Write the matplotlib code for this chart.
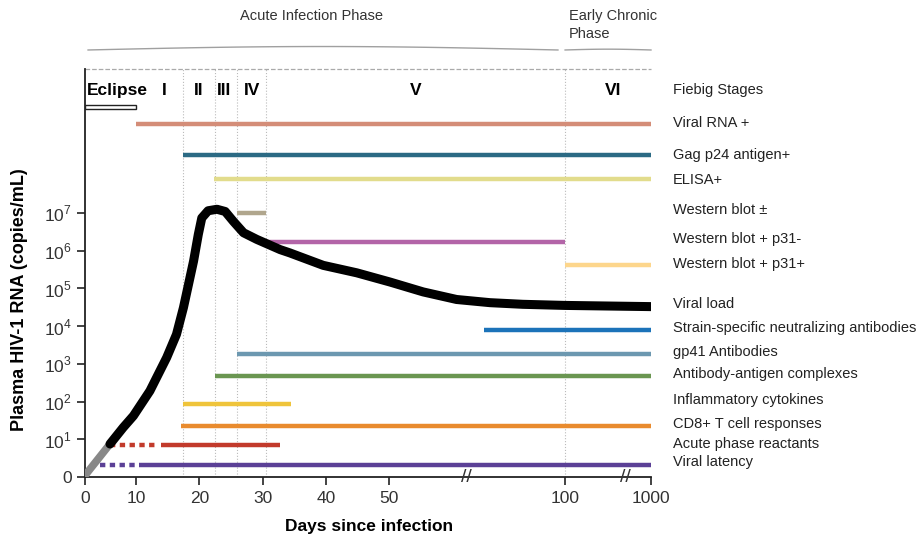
import numpy as np
import matplotlib.pyplot as plt

plt.rcParams['font.family'] = ['Liberation Sans', 'DejaVu Sans']
plt.rcParams['mathtext.fontset'] = 'custom'
plt.rcParams['mathtext.rm'] = 'Liberation Sans'

# broken x axis: days -> drawing units (piecewise linear)
day_knots = [0, 10, 50, 100, 1000]
unit_knots = [0, 51, 304, 480, 566]

# viral load curve (days, copies/mL)
vl_early_days = [0, 4.9]
vl_early_vals = [1.1, 7.5]
vl_days = [4.9, 7.5, 9.5, 12.2, 14.85, 16.4, 17.5, 18.3, 19.1, 19.85, 20.4,
           21.4, 22.8, 24.1, 25.4, 27.0, 29.1, 32.8, 34.3, 39.6, 44.9, 50.3,
           59.7, 69.2, 78.7, 88, 100, 1000]
vl_vals = [7.5, 20.6, 42, 192, 1470, 6060, 31000, 1.28e5, 5.3e5, 2.7e6, 7.4e6,
           1.15e7, 1.26e7, 1.1e7, 6.0e6, 3.0e6, 2.0e6, 1.07e6, 8.8e5, 4.1e5,
           2.6e5, 1.48e5, 8.1e4, 5.1e4, 4.2e4, 3.8e4, 3.55e4, 3.3e4]

# markers: label, start day, end day
markers = ['Viral RNA +', 'Gag p24 antigen+', 'ELISA+', 'Western blot \u00b1',
           'Western blot + p31-', 'Western blot + p31+',
           'Strain-specific neutralizing antibodies', 'gp41 Antibodies',
           'Antibody-antigen complexes', 'Inflammatory cytokines',
           'CD8+ T cell responses', 'Acute phase reactants', 'Viral latency']
marker_start = [10, 17.4, 22.4, 25.9, 30.7, 100, 77, 26, 22.5, 17.5, 17.1, 14, 10.4]
marker_end = [1000, 1000, 1000, 30.6, 100, 1000, 1000, 1000, 995, 34.5, 1000, 32.8, 1000]
marker_colors = ['#d48d78', '#2b6a84', '#e2dc8c', '#b0a68d', '#b365a8', '#fdd68c',
                 '#1c73b9', '#6c98b0', '#6a9651', '#efc43b', '#e98b2e', '#c23a2b',
                 '#5b4096']
# dotted (uncertain) lead-in segments
dotted_labels = ['Acute phase reactants', 'Viral latency']
dotted_start = [4.9, 2.9]
dotted_end = [13.3, 9.8]

# Fiebig stages
stage_names = ['I', 'II', 'III', 'IV', 'V', 'VI']
stage_mid = [14.4, 19.9, 23.9, 28.3, 57.7, 600]
stage_bounds = [17.5, 22.5, 26, 30.6, 100]
eclipse_end = 10

x_ticks = [0, 10, 20, 30, 40, 50, 100, 1000]
y_ticks = [0, 10, 1e2, 1e3, 1e4, 1e5, 1e6, 1e7]
y_ticklabels = ['0'] + ['$10^{%d}$' % k for k in range(1, 8)]

# row heights (log10 units) for the bar rows and their labels
row_levels = [9.37, 8.54, 7.91, 7.01, 6.22, 5.61, 3.89, 3.25, 2.67, 1.93, 1.35, 0.85, 0.32]
label_levels = [9.40, 8.55, 7.88, 7.09, 6.32, 5.66, 3.95, 3.31, 2.74, 2.05, 1.40, 0.87, 0.39]


def fwd_x(d):
    return np.interp(d, day_knots, unit_knots)


def inv_x(u):
    return np.interp(u, unit_knots, day_knots)


def fwd_y(v):
    return np.log10(np.maximum(v, 1))


def inv_y(v):
    return 10.0 ** np.asarray(v)


fig = plt.figure(figsize=(9.21, 5.36), dpi=100)
ax = fig.add_axes([85 / 921, 1 - 477 / 536, 566 / 921, 408 / 536])
ax.set_xscale('function', functions=(fwd_x, inv_x))
ax.set_yscale('function', functions=(fwd_y, inv_y))
ax.set_xlim(0, 1000)
ax.set_ylim(0, 10 ** 10.82)

for s in ['top', 'right']:
    ax.spines[s].set_visible(False)
for s in ['left', 'bottom']:
    ax.spines[s].set_linewidth(1.3)
    ax.spines[s].set_color('#222222')

ax.set_xticks(x_ticks)
ax.set_xticklabels([str(t) for t in x_ticks])
ax.set_yticks(y_ticks)
ax.set_yticklabels(y_ticklabels)
ax.minorticks_off()
ax.tick_params(direction='out', length=6, width=1.2, labelsize=12.5,
               labelcolor='#333333', color='#222222')
ax.tick_params(axis='x', pad=4)

# stage boundaries
for b in stage_bounds:
    ax.axvline(b, color='#bbbbbb', lw=0.8, ls=':', zorder=0)
ax.plot([0, 1], [1, 1], transform=ax.transAxes, ls='--', color='#aaaaaa',
        lw=0.9, clip_on=False)

# eclipse box
ey0, ey1 = 10 ** 9.76, 10 ** 9.86
ax.fill([0, eclipse_end, eclipse_end, 0], [ey0, ey0, ey1, ey1],
        facecolor='white', edgecolor='#222222', lw=1.0, zorder=3)

# marker bars
for i, name in enumerate(markers):
    y = 10 ** row_levels[i]
    ax.plot([marker_start[i], marker_end[i]], [y, y], color=marker_colors[i],
            lw=3.2, solid_capstyle='butt', zorder=2)
    if name in dotted_labels:
        j = dotted_labels.index(name)
        ax.plot([dotted_start[j], dotted_end[j]], [y, y], color=marker_colors[i],
                lw=3.2, ls=(0, (1.2, 1.0)), dash_capstyle='butt', zorder=2)

# viral load
ax.plot(vl_early_days, vl_early_vals, color='#888888', lw=5.5,
        solid_capstyle='round', zorder=4)
ax.plot(vl_days, vl_vals, color='black', lw=6.5, solid_capstyle='round',
        solid_joinstyle='round', zorder=5)

# right-hand labels
ytr = ax.get_yaxis_transform()
ax.text(1.039, 10 ** 10.27, 'Fiebig Stages', transform=ytr, fontsize=10.5,
        va='center', ha='left', color='#222222')
for i, name in enumerate(markers):
    ax.text(1.039, 10 ** label_levels[i], name, transform=ytr, fontsize=10.5,
            va='center', ha='left', color='#222222')
ax.text(1.039, 10 ** 4.6, 'Viral load', transform=ytr, fontsize=10.5,
        va='center', ha='left', color='#222222')

# stage names
ax.text(0.4, 10 ** 10.25, 'Eclipse', fontsize=12.5, fontweight='bold',
        va='center', ha='left')
for name, d in zip(stage_names, stage_mid):
    ax.text(d, 10 ** 10.25, name, fontsize=12.5, fontweight='bold',
            va='center', ha='center')

# axis breaks
for d in [72, 728]:
    ax.text(d, 0, '//', fontsize=14, ha='center', va='center', color='#333333',
            clip_on=False)

ax.set_xlabel('Days since infection', fontsize=12.5, fontweight='bold')
ax.xaxis.set_label_coords(0.502, -0.102)
ax.set_ylabel('Plasma HIV-1 RNA (copies/mL)', fontsize=13, fontweight='bold')
ax.yaxis.set_label_coords(-0.101, 0.434)

# phase headers
xtr = ax.get_xaxis_transform()
t = np.linspace(0, 1, 50)
ax.plot(inv_x(fwd_x(0.6) + t * (fwd_x(98) - fwd_x(0.6))),
        1.0466 + 0.0085 * np.sin(np.pi * t), transform=xtr, color='#a0a0a0',
        lw=1.0, clip_on=False)
ax.plot(inv_x(fwd_x(101) + t * (fwd_x(1000) - fwd_x(101))),
        1.0466 + 0.002 * np.sin(np.pi * t), transform=xtr, color='#a0a0a0',
        lw=1.0, clip_on=False)
fig.text(312 / 921, 1 - 16 / 536, 'Acute Infection Phase', fontsize=10.5,
         ha='center', va='center', color='#333333')
fig.text(569 / 921, 1 - 25 / 536, 'Early Chronic\nPhase', fontsize=10.5,
         ha='left', va='center', color='#333333', linespacing=1.35)

fig.savefig('out.png', dpi=100)
